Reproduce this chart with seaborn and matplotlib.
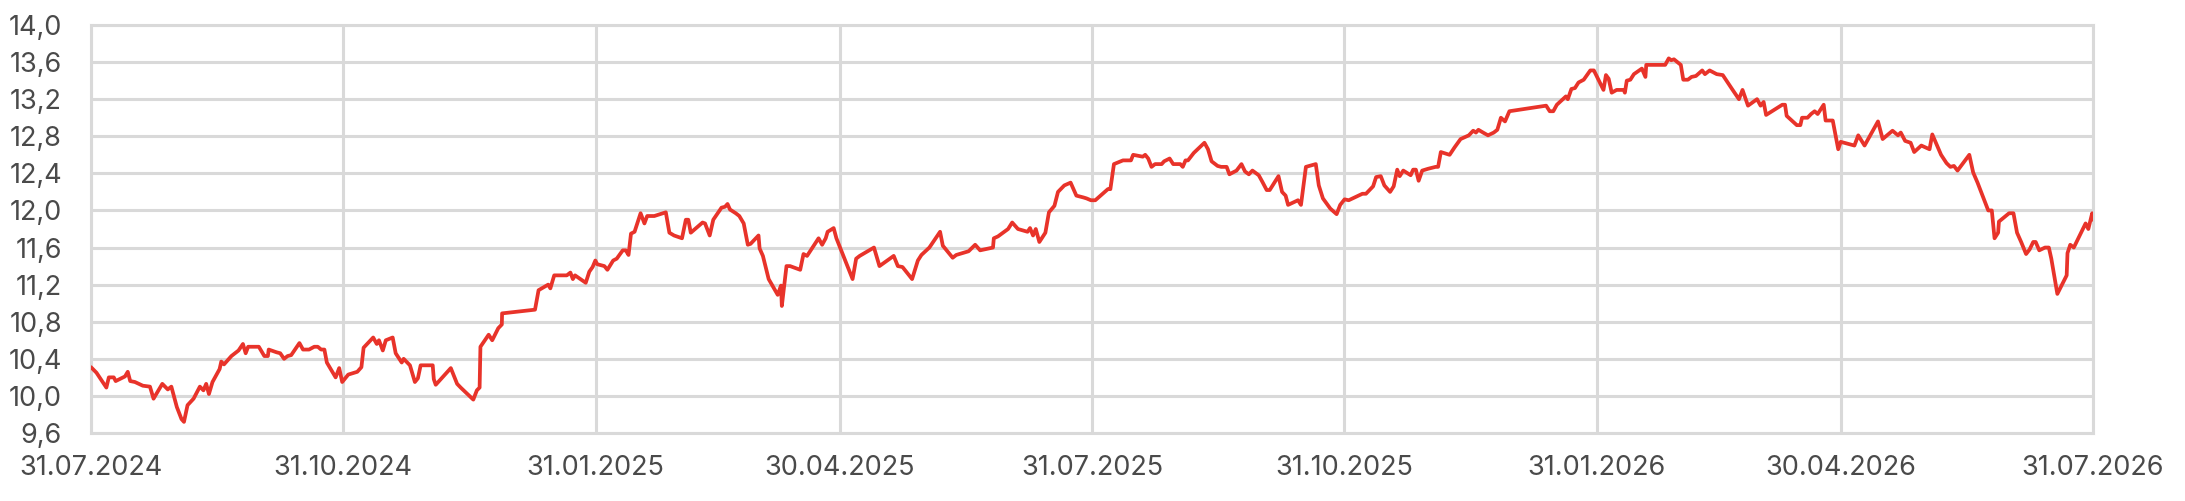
import pandas as pd
import matplotlib.pyplot as plt
import matplotlib.dates as mdates
import matplotlib.ticker as mticker
import seaborn as sns

# days after 31.07.2024 and the value
day_offset = [
    0, 2, 5.6, 6.5, 8.3, 9, 12.4, 13.4, 14.3, 16, 18.9, 21.5, 22.8, 26, 28, 29.3,
    31.3, 33, 33.9, 35.2, 37.4, 39.7, 41, 42, 43, 44.3, 46.9, 47.5, 48.5, 51.2,
    53.8, 55.4, 56.4, 57.3, 61.2, 63.2, 64.5, 64.8, 67.7, 69, 70.4, 71.7, 73,
    74.6, 76, 77.3, 79.5, 81.4, 82.7, 83.9, 85.1, 86, 89.2, 90.5, 91.6, 93.8,
    97.1, 98.6, 99.4, 102.9, 104.2, 105, 106.4, 107.5, 110, 111.1, 113.3, 114,
    116.3, 118.1, 119.2, 120.2, 124.6, 125, 125.7, 131.2, 133.5, 134.8, 139.4,
    140.7, 141.7, 142, 145, 146.3, 148.5, 149.8, 149.9, 161.9, 163.2, 166.7,
    167.5, 168.9, 173.5, 174.8, 175.7, 176.5, 180.4, 181.7, 182.9, 183.9, 184.6,
    187.2, 188.3, 190.4, 191.7, 193.9, 195, 196, 196.9, 198.2, 200.4, 201.8,
    202.8, 205.4, 209.6, 210.9, 212.6, 215.5, 216.9, 217.8, 218.7, 223, 223.9,
    225.6, 226.9, 229.9, 231.2, 232.1, 233, 235.1, 236.4, 238, 239.5, 240.5,
    243.4, 243.8, 245, 247.1, 250.4, 251.6, 251.9, 253.6, 254.9, 258.6, 259.8,
    261.1, 265.3, 266.6, 267.9, 268.6, 270.8, 271.8, 277.7, 279, 280.3, 285.5,
    287.5, 292.7, 294.2, 295.9, 299.4, 301.5, 302.8, 305.7, 309.6, 310.6, 314.2,
    315.5, 320, 322.4, 324.2, 328.9, 329.2, 330.7, 334.4, 335.9, 338, 341.5,
    342.4, 343.5, 344.5, 345.8, 348, 349.3, 351.3, 352.6, 354.9, 357.2, 359.3,
    361.9, 363, 364.6, 366.2, 370.8, 371.7, 373, 376.3, 379.2, 380, 383.5, 384.4,
    385.5, 386.7, 388, 390.4, 391.3, 393.3, 394.6, 397.2, 398.1, 399.1, 400,
    402.1, 406, 407.3, 408.6, 410.8, 412.1, 414.1, 415.1, 417.7, 419.5, 420.8,
    422.2, 423.5, 425.8, 427.1, 428.7, 429.8, 433, 434.3, 435.6, 436.5, 440.1,
    441.2, 443, 446.6, 447.7, 449.2, 451.9, 454.2, 455.5, 457.1, 458.6, 463.6,
    464.9, 467.5, 468.6, 470.3, 471.6, 473.7, 475, 476.3, 477.2, 478.5, 481.2,
    482.1, 483.1, 484.1, 485.4, 487.6, 490.3, 491.2, 492.2, 495.4, 497.2, 499.4,
    502.4, 504, 505, 505.9, 507.6, 509.4, 511.5, 512.8, 514.1, 515.6, 517.2,
    530.6, 531.9, 533.2, 534.5, 537.8, 538.5, 539.8, 541.1, 542.4, 544.3, 546.7,
    548, 551.5, 552.4, 553.4, 554.5, 556.3, 558.9, 559.3, 560, 561.3, 562.6,
    565.5, 566.8, 567.1, 574, 575.3, 576.2, 577.2, 579.7, 580.6, 582.3, 583.6,
    585.2, 587.5, 588.5, 590.2, 592.8, 595, 597, 598.6, 600.9, 602.2, 604.2,
    607.5, 608.8, 609.9, 610.8, 616.7, 617.7, 618.3, 622, 623.3, 623.9, 625.9,
    627.2, 628.5, 629.6, 631.8, 632.5, 635.1, 637.1, 638, 643, 644.4, 646.7,
    651.6, 653.3, 656.9, 658.9, 659.9, 661.5, 663.5, 664.8, 667.4, 670.4, 671.4,
    674.6, 676.6, 678, 679.3, 680.6, 684.9, 686.3, 687.9, 689.2, 691.8, 693.1,
    694.1, 695.4, 695.7, 699.4, 701, 702.3, 703.8, 705.6, 706.9, 708.2, 709.1,
    710.4, 712.5, 713.9, 714.8, 717, 718.7, 720.4, 720.7, 721.7, 723, 727.3,
    728.3, 729.7, 730, 730,
]
values = [
    10.31, 10.25, 10.09, 10.20, 10.20, 10.16, 10.21, 10.26, 10.16, 10.15, 10.11,
    10.10, 9.97, 10.13, 10.07, 10.10, 9.88, 9.75, 9.72, 9.90, 9.97, 10.10, 10.06,
    10.13, 10.02, 10.15, 10.29, 10.37, 10.34, 10.43, 10.49, 10.56, 10.46, 10.53,
    10.53, 10.43, 10.43, 10.50, 10.47, 10.46, 10.40, 10.43, 10.44, 10.51, 10.57,
    10.50, 10.50, 10.53, 10.53, 10.50, 10.50, 10.36, 10.20, 10.30, 10.15, 10.23,
    10.26, 10.31, 10.52, 10.63, 10.56, 10.60, 10.49, 10.60, 10.63, 10.46, 10.36,
    10.40, 10.33, 10.15, 10.19, 10.33, 10.33, 10.18, 10.12, 10.30, 10.13, 10.09,
    9.96, 10.06, 10.09, 10.53, 10.66, 10.60, 10.73, 10.77, 10.89, 10.93, 11.14,
    11.20, 11.16, 11.30, 11.30, 11.33, 11.26, 11.30, 11.22, 11.34, 11.39, 11.46,
    11.42, 11.40, 11.36, 11.46, 11.48, 11.57, 11.57, 11.52, 11.75, 11.77, 11.97,
    11.86, 11.94, 11.94, 11.98, 11.76, 11.73, 11.70, 11.90, 11.90, 11.76, 11.87,
    11.86, 11.73, 11.90, 12.03, 12.04, 12.07, 12.01, 11.97, 11.94, 11.86, 11.63,
    11.64, 11.73, 11.59, 11.51, 11.26, 11.09, 11.19, 10.97, 11.40, 11.40, 11.36,
    11.53, 11.51, 11.70, 11.63, 11.70, 11.77, 11.81, 11.70, 11.26, 11.48, 11.51,
    11.60, 11.40, 11.51, 11.40, 11.39, 11.26, 11.46, 11.52, 11.60, 11.77, 11.62,
    11.49, 11.52, 11.56, 11.63, 11.57, 11.60, 11.70, 11.72, 11.80, 11.87, 11.80,
    11.77, 11.81, 11.73, 11.80, 11.66, 11.76, 11.98, 12.05, 12.20, 12.27, 12.30,
    12.16, 12.14, 12.13, 12.11, 12.11, 12.23, 12.23, 12.50, 12.54, 12.54, 12.60,
    12.58, 12.60, 12.56, 12.47, 12.50, 12.50, 12.53, 12.56, 12.50, 12.50, 12.47,
    12.54, 12.54, 12.62, 12.73, 12.66, 12.53, 12.48, 12.47, 12.47, 12.39, 12.43,
    12.50, 12.42, 12.39, 12.43, 12.38, 12.31, 12.22, 12.22, 12.37, 12.20, 12.16,
    12.06, 12.11, 12.06, 12.47, 12.50, 12.27, 12.13, 12.02, 11.96, 12.06, 12.12,
    12.11, 12.18, 12.18, 12.26, 12.36, 12.37, 12.27, 12.20, 12.26, 12.44, 12.37,
    12.43, 12.38, 12.44, 12.44, 12.32, 12.43, 12.45, 12.47, 12.47, 12.63, 12.60,
    12.68, 12.77, 12.81, 12.86, 12.84, 12.87, 12.84, 12.81, 12.84, 12.87, 13.00,
    12.96, 13.07, 13.13, 13.07, 13.07, 13.14, 13.23, 13.20, 13.31, 13.32, 13.38,
    13.41, 13.51, 13.51, 13.30, 13.46, 13.42, 13.27, 13.30, 13.30, 13.27, 13.40,
    13.41, 13.47, 13.53, 13.44, 13.57, 13.57, 13.64, 13.62, 13.63, 13.57, 13.41,
    13.41, 13.44, 13.45, 13.51, 13.47, 13.51, 13.47, 13.46, 13.37, 13.30, 13.20,
    13.30, 13.13, 13.20, 13.13, 13.17, 13.03, 13.14, 13.14, 13.02, 12.92, 12.92,
    13.00, 13.00, 13.04, 13.07, 13.04, 13.14, 12.97, 12.97, 12.66, 12.74, 12.70,
    12.81, 12.70, 12.96, 12.77, 12.86, 12.81, 12.84, 12.75, 12.73, 12.63, 12.70,
    12.66, 12.82, 12.60, 12.51, 12.47, 12.48, 12.43, 12.60, 12.41, 12.30, 12.20,
    12.00, 12.00, 11.70, 11.76, 11.88, 11.97, 11.97, 11.76, 11.66, 11.53, 11.58,
    11.66, 11.66, 11.57, 11.60, 11.60, 11.48, 11.10, 11.20, 11.30, 11.54, 11.63,
    11.60, 11.86, 11.80, 11.97, 11.90, 11.90,
]
quarter_dates = ["2024-07-31", "2024-10-31", "2025-01-31", "2025-04-30", "2025-07-31",
                 "2025-10-31", "2026-01-31", "2026-04-30", "2026-07-31"]
y_ticks = [9.6, 10.0, 10.4, 10.8, 11.2, 11.6, 12.0, 12.4, 12.8, 13.2, 13.6, 14.0]

start = pd.Timestamp("2024-07-31")
df = pd.DataFrame({
    "date": start + pd.to_timedelta(day_offset, unit="D"),
    "value": values,
})

sns.set_style("white")
plt.rcParams["font.family"] = ["Inter", "DejaVu Sans"]

fig = plt.figure(figsize=(21.85, 5.01), dpi=100)
ax = fig.add_axes([91 / 2185, 1 - 433 / 501, (2093 - 91) / 2185, (433 - 25) / 501])

grid_color = "#d9d9d9"
sns.lineplot(data=df, x="date", y="value", ax=ax, color="#e8332a", linewidth=2.7,
             estimator=None, sort=False, zorder=3)

ax.set_xlim(pd.Timestamp(quarter_dates[0]), pd.Timestamp(quarter_dates[-1]))
ax.set_ylim(9.6, 14.0)
ax.xaxis.set_major_locator(mticker.FixedLocator(mdates.date2num(pd.to_datetime(quarter_dates))))
ax.xaxis.set_major_formatter(mdates.DateFormatter("%d.%m.%Y"))
ax.yaxis.set_major_locator(mticker.FixedLocator(y_ticks))
ax.yaxis.set_major_formatter(mticker.FuncFormatter(lambda v, _: f"{v:.1f}".replace(".", ",")))

ax.grid(True, color=grid_color, linewidth=2.2, zorder=0)
for side in ["left", "right", "top", "bottom"]:
    ax.spines[side].set_visible(True)
    ax.spines[side].set_color(grid_color)
    ax.spines[side].set_linewidth(2.2)

ax.tick_params(axis="y", length=0, pad=21, labelsize=19.5, labelcolor="#4a4a4a")
ax.tick_params(axis="x", length=0, pad=16, labelsize=19.5, labelcolor="#4a4a4a")
ax.set_xlabel("")
ax.set_ylabel("")

fig.savefig("out.png", dpi=100)
